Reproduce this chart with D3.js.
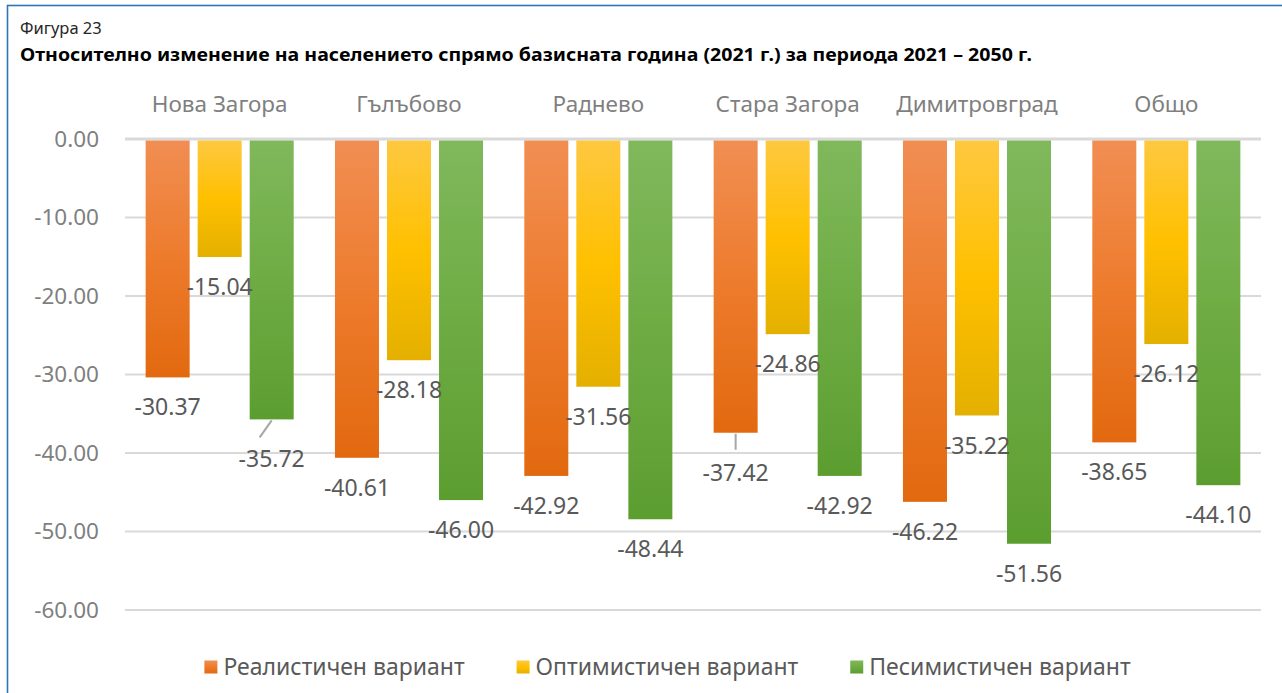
<!DOCTYPE html>
<html>
<head>
<meta charset="utf-8">
<script src="https://cdn.jsdelivr.net/npm/d3@7"></script>
<style>
	html, body { margin: 0; padding: 0; background: #fff; }
	svg { display: block; font-family: "Noto Sans", "Open Sans", sans-serif; }
</style>
</head>
<body>
<div id="chart"></div>
<script>
// data
const categories = ["Нова Загора", "Гълъбово", "Раднево", "Стара Загора", "Димитровград", "Общо"];
const seriesNames = ["Реалистичен вариант", "Оптимистичен вариант", "Песимистичен вариант"];
const realistic = [-30.37, -40.61, -42.92, -37.42, -46.22, -38.65];
const optimistic = [-15.04, -28.18, -31.56, -24.86, -35.22, -26.12];
const pessimistic = [-35.72, -46.00, -48.44, -42.92, -51.56, -44.10];
const yTicks = [0, -10, -20, -30, -40, -50, -60];

const figureLabel = "Фигура 23";
const titleText = "Относително изменение на населението спрямо базисната година (2021 г.) за периода 2021 – 2050 г.";

const seriesValues = [realistic, optimistic, pessimistic];

// gradient stops per series (top -> bottom)
const seriesColors = [
	["#f18e53", "#ed7b2c", "#e2690f"],
	["#fec840", "#ffc000", "#e4b000"],
	["#80b85c", "#6eac43", "#5c9d30"]
];

const width = 1282, height = 693;
const plot = { left: 125, right: 1261, top: 139, bottom: 610 };

const svg = d3.select("#chart").append("svg")
	.attr("width", width)
	.attr("height", height);

const defs = svg.append("defs");
seriesColors.forEach((stops, i) => {
	const g = defs.append("linearGradient")
		.attr("id", "grad" + i)
		.attr("x1", 0).attr("y1", 0).attr("x2", 0).attr("y2", 1);
	stops.forEach((c, j) => {
		g.append("stop").attr("offset", j / (stops.length - 1)).attr("stop-color", c);
	});
});

// outer frame (only top & left visible, rest is cut)
svg.append("rect")
	.attr("x", 7.5).attr("y", 5.5)
	.attr("width", width + 20).attr("height", height + 20)
	.attr("fill", "none")
	.attr("stroke", "#2e75b6")
	.attr("stroke-width", 1.6);

svg.append("text")
	.attr("x", 20).attr("y", 34)
	.attr("font-size", 16.5)
	.attr("fill", "#262626")
	.text(figureLabel);

svg.append("text")
	.attr("x", 20).attr("y", 61)
	.attr("font-size", 17)
	.attr("font-weight", "bold")
	.attr("fill", "#000")
	.attr("textLength", 1012)
	.attr("lengthAdjust", "spacingAndGlyphs")
	.text(titleText);

// scales
const x0 = d3.scaleBand()
	.domain(categories)
	.range([plot.left, plot.right])
	.paddingInner(0.218)
	.paddingOuter(0.109);

const x1 = d3.scaleBand()
	.domain(d3.range(seriesNames.length))
	.range([0, x0.bandwidth()])
	.paddingInner(0.154);

const y = d3.scaleLinear()
	.domain([0, -60])
	.range([plot.top, plot.bottom]);

// grid lines
svg.append("g")
	.selectAll("line")
	.data(yTicks)
	.join("line")
	.attr("x1", plot.left).attr("x2", plot.right)
	.attr("y1", d => y(d)).attr("y2", d => y(d))
	.attr("stroke", "#d9d9d9")
	.attr("stroke-width", d => d === 0 ? 3 : 2);

// y axis labels
const yAxis = svg.append("g")
	.attr("transform", `translate(${plot.left - 26},0)`)
	.call(d3.axisLeft(y).tickValues(yTicks).tickSize(0).tickPadding(0)
		.tickFormat(d => d.toFixed(2)));
yAxis.select(".domain").remove();
yAxis.selectAll("text")
	.attr("font-family", "\"Noto Sans\", sans-serif")
	.attr("font-size", 22.5)
	.attr("fill", "#7f7f7f");

// category labels on top
svg.append("g")
	.selectAll("text")
	.data(categories)
	.join("text")
	.attr("x", d => x0(d) + x0.bandwidth() / 2)
	.attr("y", 104)
	.attr("dy", "0.35em")
	.attr("text-anchor", "middle")
	.attr("font-size", 22.5)
	.attr("fill", "#7f7f7f")
	.text(d => d);

// flatten bar data
const bars = [];
categories.forEach((cat, ci) => {
	seriesValues.forEach((vals, si) => {
		bars.push({ cat, ci, si, value: vals[ci] });
	});
});

svg.append("g")
	.selectAll("rect")
	.data(bars)
	.join("rect")
	.attr("x", d => x0(d.cat) + x1(d.si))
	.attr("y", y(0) + 1.5)
	.attr("width", x1.bandwidth())
	.attr("height", d => y(d.value) - y(0) - 1.5)
	.attr("fill", d => `url(#grad${d.si})`);

// labels moved away from their bar in the original, with a leader line
const labelNudge = {
	"0|2": { dy: 10, lead: [-12, 18] },
	"3|0": { dy: 10, lead: [0, 17] }
};

const labelG = svg.append("g");
bars.forEach(d => {
	const cx = x0(d.cat) + x1(d.si) + x1.bandwidth() / 2;
	const yEnd = y(d.value);
	const nudge = labelNudge[d.ci + "|" + d.si];
	const dy = 30 + (nudge ? nudge.dy : 0);
	if (nudge) {
		labelG.append("line")
			.attr("x1", cx).attr("y1", yEnd + 1)
			.attr("x2", cx + nudge.lead[0]).attr("y2", yEnd + nudge.lead[1])
			.attr("stroke", "#a6a6a6")
			.attr("stroke-width", 2);
	}
	labelG.append("text")
		.attr("x", cx)
		.attr("y", yEnd + dy)
		.attr("dy", "0.35em")
		.attr("text-anchor", "middle")
		.attr("font-size", 23)
		.attr("fill", "#595959")
		.text(d.value.toFixed(2));
});

// legend
const legend = svg.append("g");
const legendGap = 52, swatch = 13;
let lx = 0;
seriesNames.forEach((name, i) => {
	const g = legend.append("g");
	g.append("rect")
		.attr("x", 0).attr("y", -swatch / 2)
		.attr("width", swatch).attr("height", swatch)
		.attr("fill", `url(#grad${i})`);
	const t = g.append("text")
		.attr("x", swatch + 6)
		.attr("dy", "0.35em")
		.attr("font-size", 23)
		.attr("fill", "#595959")
		.text(name);
	const w = swatch + 6 + t.node().getComputedTextLength();
	g.attr("transform", `translate(${lx},0)`);
	lx += w + legendGap;
});
const legendWidth = lx - legendGap;
legend.attr("transform", `translate(${667.5 - legendWidth / 2},667)`);
</script>
</body>
</html>
